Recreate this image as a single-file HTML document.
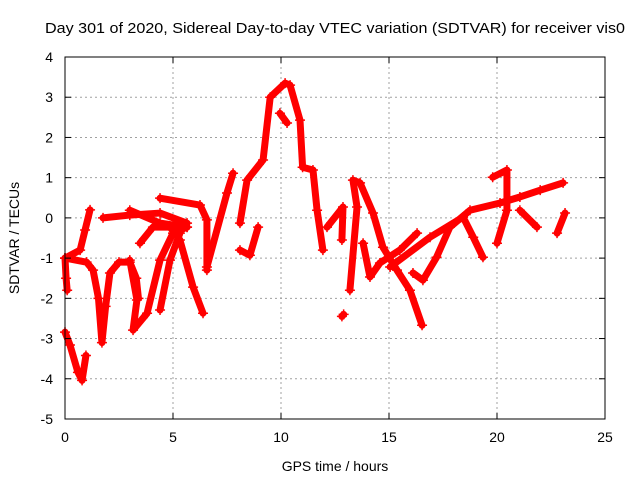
<!DOCTYPE html>
<html><head><meta charset="utf-8"><style>
html,body{margin:0;padding:0;background:#fff;}
svg{display:block;font-family:"Liberation Sans",sans-serif;}
</style></head><body>
<svg id="chart" width="640" height="480" viewBox="0 0 640 480" xmlns="http://www.w3.org/2000/svg">
<rect width="640" height="480" fill="#fff"/>
<text x="45" y="33" font-size="15" textLength="580" lengthAdjust="spacingAndGlyphs" fill="#000">Day 301 of 2020, Sidereal Day-to-day VTEC variation (SDTVAR) for receiver vis0</text>
<g id="grid"></g>
<g id="marks"></g>
<rect x="65" y="57" width="540" height="362" fill="none" stroke="#000" stroke-width="1"/>
<g id="ticks"></g>
<text x="335" y="471" font-size="14" text-anchor="middle">GPS time / hours</text>
<text transform="translate(19,238) rotate(-90)" font-size="14" text-anchor="middle">SDTVAR / TECUs</text>
</svg>
<script>
const xTicks=[0,5,10,15,20,25];
const yTicks=[-5,-4,-3,-2,-1,0,1,2,3,4];
const t1=[[0,-2.84],[0.23,-3.16],[0.6,-3.84],[0.79,-4.04],[0.97,-3.42]];
const t2=[[0,-1.0],[0.05,-1.5],[0.1,-1.8]];
const t3=[[0,-1.0],[0.7,-0.8],[0.93,-0.3],[1.16,0.2]];
const t4=[[0,-1.0],[1.0,-1.1],[1.3,-1.3],[1.55,-2.0],[1.71,-3.1],[1.88,-2.2],[2.08,-1.37],[2.5,-1.1],[3.0,-1.1],[3.3,-1.5],[3.4,-2.0]];
const tA=[[1.76,0.0],[3.0,0.07],[4.4,0.12],[5.65,-0.13]];
const tB=[[4.4,0.49],[6.25,0.32],[6.57,-0.05],[6.57,-1.3]];
const tC=[[3.0,0.19],[4.4,-0.13],[5.65,-0.23]];
const tD=[[3.0,-1.05],[3.33,-2.04],[3.15,-2.79],[3.8,-2.37],[4.4,-1.05],[5.0,-0.38],[5.65,-0.23]];
const tE=[[3.47,-0.63],[4.07,-0.23],[4.86,-0.23],[5.32,-0.55],[5.93,-1.72],[6.39,-2.37]];
const tF=[[4.4,-2.29],[4.86,-1.05],[5.32,-0.38]];
const tG=[[6.57,-1.22],[7.5,0.62],[7.78,1.11]];
const tH=[[8.1,-0.13],[8.43,0.94],[9.17,1.44],[9.5,3.0],[10.19,3.35],[10.42,3.3],[10.88,2.43],[11.0,1.26],[11.48,1.19],[11.67,0.19],[11.94,-0.8]];
const tI=[[8.1,-0.8],[8.56,-0.93],[8.94,-0.23]];
const tJ=[[9.95,2.6],[10.28,2.36]];
const tK=[[12.13,-0.23],[12.87,0.27],[12.82,-0.55]];
const tL=[[13.19,-1.8],[13.52,0.27],[13.33,0.94],[13.66,0.87],[14.26,0.12],[14.72,-0.73],[15.37,-1.3],[15.97,-1.8],[16.53,-2.67]];
const tM=[[12.82,-2.45],[12.9,-2.4]];
const tN=[[13.8,-0.63],[14.12,-1.47],[14.58,-1.12],[15.5,-0.8],[16.3,-0.38]];
const tO=[[16.11,-1.37],[16.57,-1.55],[17.2,-0.98],[17.82,-0.23],[18.75,0.19],[20.14,0.37],[21.06,0.52],[22.0,0.69],[23.06,0.87]];
const tP=[[15.05,-1.22],[16.9,-0.48],[18.43,0.02],[18.9,-0.48],[19.35,-0.98]];
const tQ=[[19.8,1.01],[20.46,1.19],[20.46,0.19],[20.0,-0.63]];
const tR=[[21.06,0.19],[21.85,-0.23]];
const tS=[[22.78,-0.38],[23.15,0.12]];
const tracks=[t1,t2,t3,t4,tA,tB,tC,tD,tE,tF,tG,tH,tI,tJ,tK,tL,tM,tN,tO,tP,tQ,tR,tS];

const NS="http://www.w3.org/2000/svg";
const X0=65,X1=605,Y0=419,Y1=57;
const xs=v=>X0+(v-0)/(25-0)*(X1-X0);
const ys=v=>Y0-(v-(-5))/(4-(-5))*(Y0-Y1);
function mk(tag,attrs,parent){const e=document.createElementNS(NS,tag);for(const k in attrs)e.setAttribute(k,attrs[k]);parent.appendChild(e);return e;}
const grid=document.getElementById('grid'),ticks=document.getElementById('ticks'),marks=document.getElementById('marks');
xTicks.forEach(t=>{
  const x=xs(t);
  if(t>0&&t<25){const g=mk('line',{x1:x,y1:Y1,x2:x,y2:Y0,stroke:'#a0a0a0','stroke-dasharray':'2,3'},grid);
  
  }
  const a=mk('line',{x1:x,y1:Y0,x2:x,y2:Y0-6,stroke:'#000'},ticks);
  
  
  const b=mk('line',{x1:x,y1:Y1,x2:x,y2:Y1+6,stroke:'#000'},ticks);
  
  
  const l=mk('text',{x:x,y:442,'font-size':14,'text-anchor':'middle'},ticks);l.textContent=t;
  
  
});
yTicks.forEach(t=>{
  const y=ys(t);
  if(t>-5&&t<4){const g=mk('line',{x1:X0,y1:y,x2:X1,y2:y,stroke:'#a0a0a0','stroke-dasharray':'2,3'},grid);
  
  }
  const a=mk('line',{x1:X0,y1:y,x2:X0+6,y2:y,stroke:'#000'},ticks);
  
  
  const b=mk('line',{x1:X1,y1:y,x2:X1-6,y2:y,stroke:'#000'},ticks);
  
  
  const l=mk('text',{x:53,y:y+5,'font-size':14,'text-anchor':'end'},ticks);l.textContent=t;
  
  
});
tracks.forEach(tr=>{
  const pts=tr.map(p=>xs(p[0])+','+ys(p[1])).join(' ');
  const pl=mk('polyline',{points:pts,fill:'none',stroke:'#ff0000','stroke-width':7,'stroke-linejoin':'round','stroke-linecap':'round'},marks);
  
  
  tr.forEach(p=>{
    const x=xs(p[0]),y=ys(p[1]);
    const m=mk('path',{d:`M${x-5},${y}H${x+5}M${x},${y-5}V${y+5}`,stroke:'#ff0000','stroke-width':1.5},marks);
    
    
  });
});
</script>
</body></html>
